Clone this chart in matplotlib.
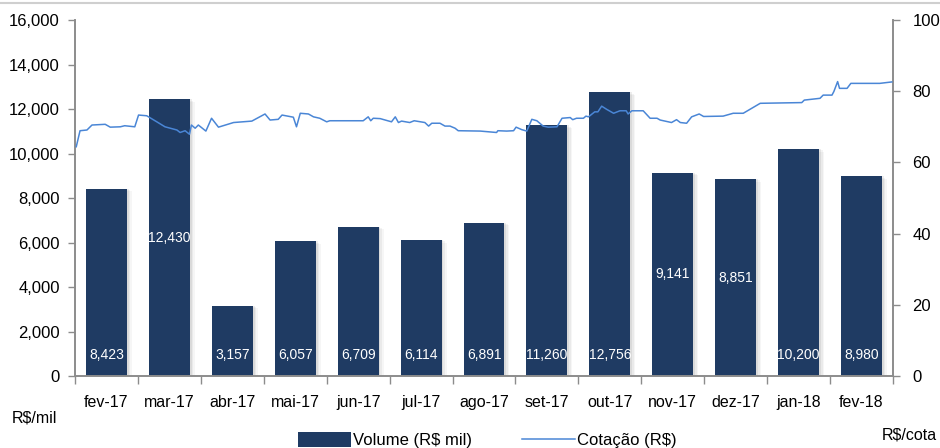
import matplotlib
matplotlib.use('Agg')
import matplotlib.pyplot as plt
from matplotlib.lines import Line2D
from matplotlib.patches import Patch
import numpy as np

## data
months = ['fev-17', 'mar-17', 'abr-17', 'mai-17', 'jun-17', 'jul-17', 'ago-17',
          'set-17', 'out-17', 'nov-17', 'dez-17', 'jan-18', 'fev-18']
volume = [8423, 12430, 3157, 6057, 6709, 6114, 6891, 11260, 12756, 9141, 8851, 10200, 8980]
centered_label = [False, True, False, False, False, False, False,
                  False, False, True, True, False, False]

# cotacao (R$): position in months since start of fev-17, value
cot_pos = [0.02, 0.08, 0.19, 0.27, 0.48, 0.56, 0.72, 0.79, 0.95, 1.01, 1.14, 1.30,
           1.43, 1.62, 1.67, 1.75, 1.82, 1.85, 1.91, 1.96, 2.08, 2.17, 2.28, 2.52,
           2.81, 3.02, 3.10, 3.23, 3.29, 3.47, 3.52, 3.58, 3.71, 3.79, 3.89, 4.00,
           4.05, 4.58, 4.66, 4.70, 4.74, 4.85, 5.03, 5.09, 5.14, 5.19, 5.32, 5.39,
           5.56, 5.62, 5.67, 5.80, 5.88, 5.96, 6.04, 6.09, 6.44, 6.70, 6.72, 6.86,
           6.97, 7.01, 7.10, 7.18, 7.26, 7.34, 7.44, 7.52, 7.66, 7.74, 7.87, 7.91,
           7.97, 8.08, 8.12, 8.16, 8.26, 8.31, 8.37, 8.45, 8.56, 8.66, 8.76, 8.79,
           8.85, 9.03, 9.14, 9.25, 9.30, 9.48, 9.56, 9.62, 9.72, 9.80, 9.92, 9.99,
           10.30, 10.46, 10.62, 10.89, 11.55, 11.59, 11.84, 11.89, 12.03, 12.06,
           12.12, 12.15, 12.27, 12.33, 12.79, 12.98]
cot_val = [64.4, 68.9, 69.1, 70.5, 70.7, 69.9, 70.0, 70.3, 70.0, 73.3, 73.1, 71.4,
           70.0, 69.1, 68.4, 68.9, 67.9, 70.5, 69.6, 70.5, 68.8, 72.4, 69.9, 71.2,
           71.6, 73.6, 71.9, 72.1, 73.3, 72.7, 70.0, 73.8, 73.6, 72.8, 72.4, 71.4,
           71.7, 71.7, 72.8, 71.7, 72.4, 72.3, 71.4, 72.8, 71.2, 71.6, 71.2, 71.7,
           71.2, 70.2, 71.0, 71.0, 70.2, 70.2, 69.6, 68.9, 68.8, 68.4, 68.9, 68.8,
           68.9, 69.9, 69.2, 68.8, 72.1, 71.7, 70.2, 69.9, 70.0, 72.4, 72.6, 72.0,
           72.4, 72.4, 73.0, 72.8, 74.2, 74.2, 75.8, 74.9, 73.8, 74.5, 74.5, 73.6,
           74.5, 74.5, 72.4, 72.4, 71.9, 71.2, 72.0, 71.2, 71.0, 72.8, 73.6, 72.9,
           73.0, 73.8, 73.8, 76.6, 76.8, 77.5, 78.0, 78.9, 78.9, 79.9,
           82.7, 80.8, 80.8, 82.2, 82.2, 82.6]

## style
bar_color = '#1f3b63'
line_color = '#4a86d6'
spine_color = '#8c8c8c'
font = 'Liberation Sans'
plt.rcParams['font.family'] = [font, 'DejaVu Sans']

fig = plt.figure(figsize=(9.4, 4.48), dpi=100)
ax = fig.add_axes([75 / 940, 1 - 376 / 448, (893 - 75) / 940, (376 - 20) / 448])
ax2 = ax.twinx()

x = np.arange(len(months))
width = 0.65

# soft drop shadow to the right of bars
for k, a in enumerate([0.10, 0.07, 0.05]):
    ax.bar(x + 0.03 + 0.025 * k, np.array(volume) - 60 * k, width=width, color='#555555',
           alpha=a, linewidth=0, zorder=1)
ax.bar(x, volume, width=width, color=bar_color, linewidth=0, zorder=2)

for i, v in enumerate(volume):
    ypos = v / 2 if centered_label[i] else 950
    ax.text(i, ypos, f'{v:,}', ha='center', va='center', color='white', fontsize=10, zorder=3)

ax.set_xlim(-0.5, len(months) - 0.5)
ax.set_ylim(0, 16000)
ax.set_yticks(range(0, 16001, 2000))
ax.set_yticklabels([f'{t:,}' for t in range(0, 16001, 2000)], fontsize=12)
ax.set_xticks(x)
ax.set_xticklabels(months, fontsize=11.5)
ax.set_xticks(np.arange(-0.5, len(months), 1), minor=True)
ax.tick_params(axis='x', which='major', length=0, pad=14)
ax.tick_params(axis='x', which='minor', length=6, color=spine_color, width=1)
ax.tick_params(axis='y', length=5, color=spine_color, width=1, pad=6)

ax2.plot(np.array(cot_pos) - 0.5, cot_val, color=line_color, linewidth=1.1, zorder=5)
ax2.set_ylim(0, 100)
ax2.set_yticks(range(0, 101, 20))
ax2.set_yticklabels([str(t) for t in range(0, 101, 20)], fontsize=12)
ax2.tick_params(axis='y', length=5, color=spine_color, width=1, pad=9)

# line on top of bars
ax.set_zorder(1)
ax2.set_zorder(2)
ax.patch.set_visible(False)

for a in (ax, ax2):
    a.spines['top'].set_visible(False)
    for s in ('left', 'right', 'bottom'):
        a.spines[s].set_color(spine_color)
        a.spines[s].set_linewidth(1.2)

fig.text(12 / 940, 1 - 418 / 448, 'R$/mil', fontsize=11.5, va='center', ha='left')
fig.text(937 / 940, 1 - 435 / 448, 'R$/cota', fontsize=11.5, va='center', ha='right')

# thin gray rule along the top
fig.add_artist(Line2D([0, 1], [1 - 3 / 448, 1 - 3 / 448], color='#cfcfcf', linewidth=1.5))

handles = [Patch(facecolor=bar_color, edgecolor='none'),
           Line2D([0], [0], color=line_color, linewidth=1.1)]
fig.legend(handles, ['Volume (R$ mil)', 'Cotação (R$)'], loc='center', ncol=2,
           bbox_to_anchor=(487 / 940, 1 - 440 / 448), frameon=False, fontsize=12,
           handlelength=3.2, handleheight=1.0, handletextpad=0.1, columnspacing=3.0)

fig.savefig('out.png', dpi=100)
